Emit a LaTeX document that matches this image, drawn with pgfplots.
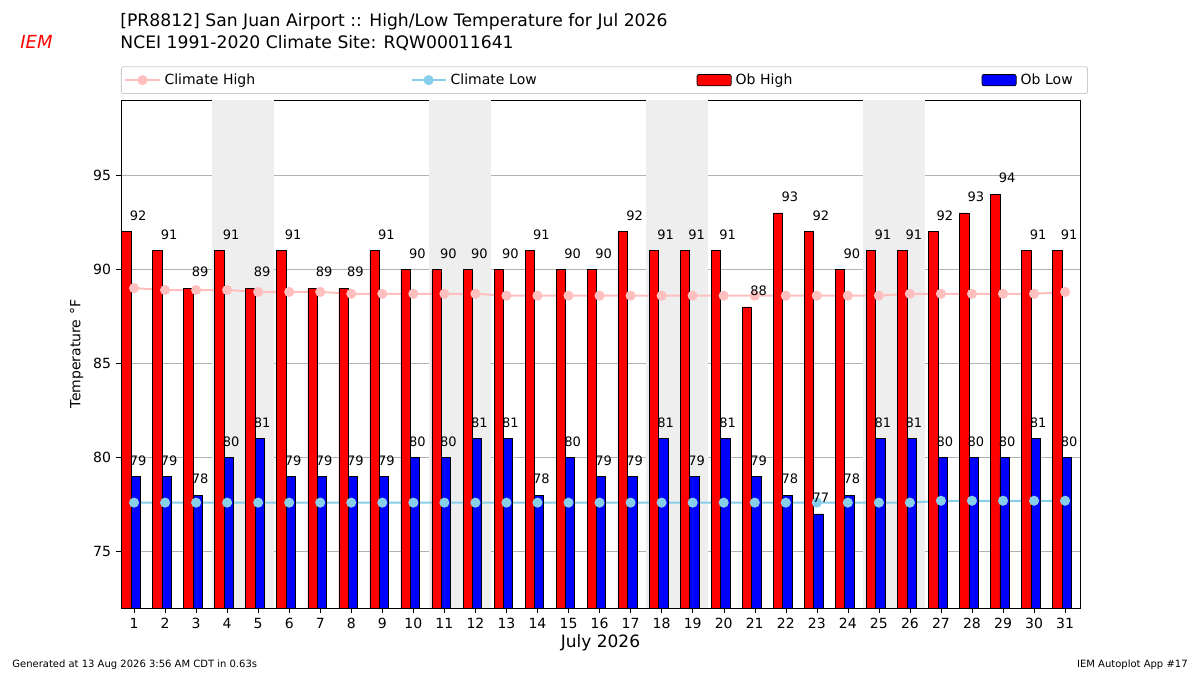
\documentclass[border=0pt]{standalone}
\usepackage{pgfplots}
\pgfplotsset{compat=1.18}
\usepackage{fontspec}
\setmainfont{DejaVu Sans}
\begin{document}
\fontsize{7}{8.4}\selectfont
\begin{tikzpicture}[x=1pt,y=1pt]
\path (0,0) rectangle (600,337.5);
\begin{axis}[
  at={(60.5pt,33.5pt)}, anchor=south west,
  scale only axis, width=479.5pt, height=254pt,
  xmin=0.58, xmax=31.48, ymin=72, ymax=99,
  xtick={1,...,31}, ytick={75,80,85,90,95},
  ymajorgrids, grid style={gray!60, line width=0.4pt},
  tick style={black}, tick align=outside, major tick length=2.5pt,
  xtick pos=bottom, ytick pos=left,
  /pgf/number format/assume math mode=true,
  ticklabel style={font=\fontsize{7}{8}\selectfont},
  xlabel={July 2026}, xlabel style={font=\fontsize{8.5}{10}\selectfont, yshift=2pt},
  ylabel={Temperature °F}, ylabel style={font=\fontsize{7}{8}\selectfont},
  legend columns=4,
  legend style={at={(0,1.012)}, anchor=south west, draw=gray!40, rounded corners=1pt,
    font=\fontsize{7}{8}\selectfont, /tikz/every even column/.append style={column sep=0pt},
    nodes={text width=121pt, align=left}, inner sep=1.5pt},
  legend cell align=left,
]
\addlegendimage{pink, line width=1pt, mark=*, mark size=2pt}
\addlegendentry{Climate High}
\addlegendimage{line width=1pt, mark=*, mark size=2pt, color={rgb,255:red,135;green,206;blue,235}}
\addlegendentry{Climate Low}
\addlegendimage{area legend, fill=red, draw=black}
\addlegendentry{Ob High}
\addlegendimage{area legend, fill=blue, draw=black}
\addlegendentry[text width=30pt]{Ob Low}

\addplot[forget plot, fill=gray!13, draw=none] coordinates {(3.5,72)(5.5,72)(5.5,99)(3.5,99)} -- cycle;
\addplot[forget plot, fill=gray!13, draw=none] coordinates {(10.5,72)(12.5,72)(12.5,99)(10.5,99)} -- cycle;
\addplot[forget plot, fill=gray!13, draw=none] coordinates {(17.5,72)(19.5,72)(19.5,99)(17.5,99)} -- cycle;
\addplot[forget plot, fill=gray!13, draw=none] coordinates {(24.5,72)(26.5,72)(26.5,99)(24.5,99)} -- cycle;

\addplot[forget plot, pink, line width=1pt, mark=*, mark size=2pt] coordinates {(1,89.0)(2,88.9)(3,88.9)(4,88.9)(5,88.8)(6,88.8)(7,88.8)(8,88.7)(9,88.7)(10,88.7)(11,88.7)(12,88.7)(13,88.6)(14,88.6)(15,88.6)(16,88.6)(17,88.6)(18,88.6)(19,88.6)(20,88.6)(21,88.6)(22,88.6)(23,88.6)(24,88.6)(25,88.6)(26,88.7)(27,88.7)(28,88.7)(29,88.7)(30,88.7)(31,88.8)};
\addplot[forget plot, color={rgb,255:red,135;green,206;blue,235}, line width=1pt, mark=*, mark size=2pt] coordinates {(1,77.6)(2,77.6)(3,77.6)(4,77.6)(5,77.6)(6,77.6)(7,77.6)(8,77.6)(9,77.6)(10,77.6)(11,77.6)(12,77.6)(13,77.6)(14,77.6)(15,77.6)(16,77.6)(17,77.6)(18,77.6)(19,77.6)(20,77.6)(21,77.6)(22,77.6)(23,77.6)(24,77.6)(25,77.6)(26,77.6)(27,77.7)(28,77.7)(29,77.7)(30,77.7)(31,77.7)};

\addplot[forget plot, ybar, bar width=0.3, bar shift=-0.25, fill=red, draw=black, line width=0.3pt,
  nodes near coords, every node near coord/.append style={font=\fontsize{6.5}{8}\selectfont, black, xshift=2pt, yshift=3pt}]
 coordinates {(1,92)(2,91)(3,89)(4,91)(5,89)(6,91)(7,89)(8,89)(9,91)(10,90)(11,90)(12,90)(13,90)(14,91)(15,90)(16,90)(17,92)(18,91)(19,91)(20,91)(21,88)(22,93)(23,92)(24,90)(25,91)(26,91)(27,92)(28,93)(29,94)(30,91)(31,91)};
\addplot[forget plot, ybar, bar width=0.3, bar shift=0.05, fill=blue, draw=black, line width=0.3pt,
  nodes near coords, every node near coord/.append style={font=\fontsize{6.5}{8}\selectfont, black, xshift=2pt, yshift=3pt}]
 coordinates {(1,79)(2,79)(3,78)(4,80)(5,81)(6,79)(7,79)(8,79)(9,79)(10,80)(11,80)(12,81)(13,81)(14,78)(15,80)(16,79)(17,79)(18,81)(19,79)(20,81)(21,79)(22,78)(23,77)(24,78)(25,81)(26,81)(27,80)(28,80)(29,80)(30,81)(31,80)};
\end{axis}
\node[anchor=north west, align=left, font=\fontsize{8.6}{10.8}\selectfont, inner sep=0pt] at (60,331) {[PR8812] San Juan Airport :: High/Low Temperature for Jul 2026\\NCEI 1991-2020 Climate Site: RQW00011641};
\node[anchor=north west, font=\fontsize{9}{10}\selectfont\itshape, text=red, inner sep=0pt] at (10,320) {IEM};
\node[anchor=west, font=\fontsize{5}{6}\selectfont, inner sep=0pt] at (6,5) {Generated at 13 Aug 2026 3:56 AM CDT in 0.63s};
\node[anchor=east, font=\fontsize{5}{6}\selectfont, inner sep=0pt] at (594,5) {IEM Autoplot App \#17};
\end{tikzpicture}
\end{document}
